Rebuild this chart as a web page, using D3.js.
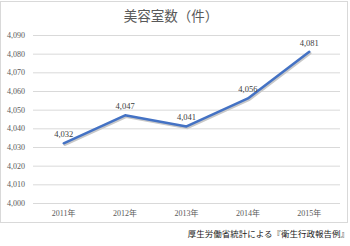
<!DOCTYPE html>
<html>
<head>
<meta charset="utf-8">
<script src="https://cdn.jsdelivr.net/npm/d3@7"></script>
<style>
  body { margin: 0; background: #fff; }
  svg { display: block; }
</style>
</head>
<body>
<svg></svg>
<script>
let years = ['2011年', '2012年', '2013年', '2014年', '2015年']
let counts = [4032, 4047, 4041, 4056, 4081]
let yTicks = [4000, 4010, 4020, 4030, 4040, 4050, 4060, 4070, 4080, 4090]

let width = 350
let height = 246

let svg = d3.select('svg')
    .attr('width', width)
    .attr('height', height)

// chart frame
svg.append('rect')
    .attr('x', 0.5)
    .attr('y', 1.5)
    .attr('width', 347)
    .attr('height', 221)
    .attr('fill', '#fff')
    .attr('stroke', '#d9d9d9')

// scales
let xScale = d3.scaleBand()
    .domain(years)
    .range([33, 340])

let yScale = d3.scaleLinear()
    .domain([4000, 4090])
    .range([203, 35])

// gridlines
svg.append('g')
    .selectAll('line')
    .data(yTicks)
    .enter()
    .append('line')
    .attr('x1', 33)
    .attr('x2', 340)
    .attr('y1', d => yScale(d) + 0.5)
    .attr('y2', d => yScale(d) + 0.5)
    .attr('stroke', '#d9d9d9')
    .attr('stroke-width', 1)

// y axis labels
let yAxis = d3.axisLeft(yScale)
    .tickValues(yTicks)
    .tickFormat(d3.format(','))
    .tickSize(0)
    .tickPadding(0)
svg.append('g')
    .attr('transform', 'translate(25, 0)')
    .call(yAxis)
    .call(g => g.select('.domain').remove())
    .selectAll('text')
    .attr('font-family', 'Liberation Serif')
    .attr('font-size', 8)
    .attr('fill', '#595959')

// x axis labels
let xAxis = d3.axisBottom(xScale)
    .tickSize(0)
    .tickPadding(6)
svg.append('g')
    .attr('transform', 'translate(0, 204)')
    .call(xAxis)
    .call(g => g.select('.domain').remove())
    .selectAll('text')
    .attr('font-family', 'Liberation Serif, Noto Sans CJK JP')
    .attr('font-size', 8)
    .attr('fill', '#595959')

// line
let points = years.map((y, i) => [y, counts[i]])
let line = d3.line()
    .x(d => xScale(d[0]) + xScale.bandwidth() / 2)
    .y(d => yScale(d[1]))

svg.append('path')
    .datum(points)
    .attr('d', line)
    .attr('fill', 'none')
    .attr('stroke', '#c8c8c8')
    .attr('stroke-width', 2.5)
    .attr('transform', 'translate(1, 1.5)')
    .attr('stroke-linejoin', 'round')
    .attr('stroke-linecap', 'round')

svg.append('path')
    .datum(points)
    .attr('d', line)
    .attr('fill', 'none')
    .attr('stroke', '#4472c4')
    .attr('stroke-width', 2.5)
    .attr('stroke-linejoin', 'round')
    .attr('stroke-linecap', 'round')

// data labels
svg.append('g')
    .selectAll('text')
    .data(points)
    .enter()
    .append('text')
    .attr('x', d => xScale(d[0]) + xScale.bandwidth() / 2)
    .attr('y', d => yScale(d[1]) - 6)
    .attr('text-anchor', 'middle')
    .attr('font-family', 'Liberation Serif')
    .attr('font-size', 8.5)
    .attr('fill', '#404040')
    .text(d => d3.format(',')(d[1]))

// title
svg.append('text')
    .attr('x', 171)
    .attr('y', 21)
    .attr('text-anchor', 'middle')
    .attr('font-family', 'Noto Sans CJK JP')
    .attr('font-size', 13.5)
    .attr('fill', '#595959')
    .text('美容室数（件）')

// source note
svg.append('text')
    .attr('x', 349)
    .attr('y', 237)
    .attr('text-anchor', 'end')
    .attr('font-family', 'Noto Sans CJK JP')
    .attr('font-size', 8.5)
    .attr('fill', '#222')
    .text('厚生労働省統計による『衛生行政報告例』')
</script>
</body>
</html>
